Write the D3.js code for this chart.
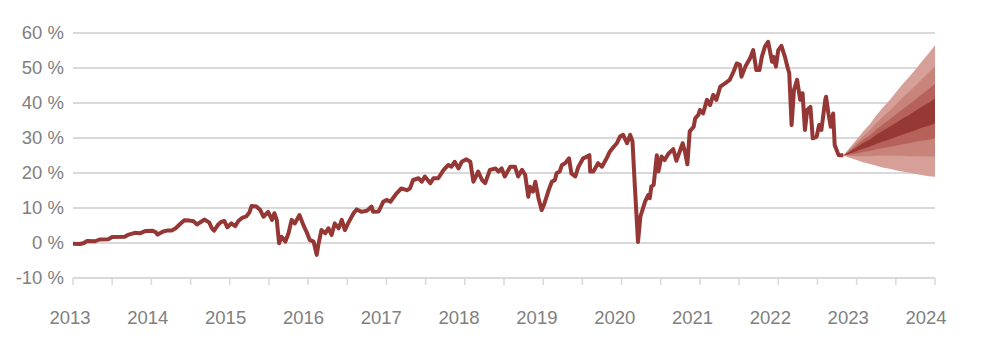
<!DOCTYPE html>
<html>
<head>
<meta charset="utf-8">
<script src="https://cdn.jsdelivr.net/npm/d3@7"></script>
<style>
    body { margin: 0; background: #fff; }
    svg { display: block; }
</style>
</head>
<body>
<svg id="chart"></svg>
<script>
// Historical performance, decimal years and % values
const lineYears = [
    2013.00, 2013.09, 2013.14, 2013.18, 2013.28, 2013.34, 2013.45, 2013.50, 2013.66, 2013.70,
    2013.79, 2013.86, 2013.92, 2014.01, 2014.05, 2014.08, 2014.15, 2014.21, 2014.26, 2014.31,
    2014.37, 2014.42, 2014.49, 2014.54, 2014.58, 2014.65, 2014.68, 2014.74, 2014.77, 2014.80,
    2014.85, 2014.89, 2014.93, 2014.97, 2015.02, 2015.07, 2015.11, 2015.16, 2015.21, 2015.25,
    2015.28, 2015.34, 2015.39, 2015.43, 2015.49, 2015.54, 2015.57, 2015.60, 2015.63, 2015.66,
    2015.71, 2015.75, 2015.79, 2015.83, 2015.89, 2015.94, 2015.98, 2016.02, 2016.07, 2016.11,
    2016.13, 2016.17, 2016.22, 2016.26, 2016.30, 2016.34, 2016.39, 2016.43, 2016.47, 2016.51,
    2016.58, 2016.62, 2016.68, 2016.75, 2016.81, 2016.83, 2016.90, 2016.96, 2017.00, 2017.05,
    2017.13, 2017.19, 2017.26, 2017.30, 2017.34, 2017.41, 2017.45, 2017.49, 2017.56, 2017.60,
    2017.66, 2017.73, 2017.79, 2017.83, 2017.87, 2017.92, 2017.96, 2018.02, 2018.07, 2018.11,
    2018.17, 2018.22, 2018.26, 2018.32, 2018.39, 2018.43, 2018.47, 2018.51, 2018.58, 2018.64,
    2018.68, 2018.73, 2018.77, 2018.81, 2018.83, 2018.87, 2018.90, 2018.94, 2018.98, 2019.01,
    2019.07, 2019.11, 2019.15, 2019.17, 2019.21, 2019.24, 2019.28, 2019.33, 2019.36, 2019.41,
    2019.45, 2019.51, 2019.56, 2019.59, 2019.60, 2019.64, 2019.70, 2019.75, 2019.81, 2019.85,
    2019.90, 2019.94, 2019.98, 2020.02, 2020.07, 2020.11, 2020.14, 2020.17, 2020.21, 2020.24,
    2020.30, 2020.34, 2020.36, 2020.38, 2020.41, 2020.45, 2020.47, 2020.51, 2020.55, 2020.60,
    2020.66, 2020.70, 2020.78, 2020.81, 2020.84, 2020.87, 2020.92, 2020.94, 2020.98, 2021.00,
    2021.04, 2021.09, 2021.13, 2021.17, 2021.21, 2021.26, 2021.32, 2021.38, 2021.43, 2021.47,
    2021.51, 2021.53, 2021.58, 2021.64, 2021.68, 2021.72, 2021.76, 2021.79, 2021.83, 2021.87,
    2021.92, 2021.94, 2021.97, 2022.00, 2022.04, 2022.09, 2022.11, 2022.14, 2022.17, 2022.20,
    2022.24, 2022.28, 2022.31, 2022.34, 2022.37, 2022.41, 2022.44, 2022.49, 2022.52, 2022.55,
    2022.60, 2022.61, 2022.64, 2022.67, 2022.70, 2022.72, 2022.77, 2022.83
];
const lineValues = [
    -0.2, -0.3, 0.0, 0.6, 0.5, 1.0, 1.1, 1.7, 1.8, 2.3,
    2.9, 2.8, 3.4, 3.5, 3.2, 2.4, 3.3, 3.6, 3.6, 4.2,
    5.5, 6.5, 6.4, 6.2, 5.3, 6.3, 6.7, 5.8, 4.3, 3.5,
    5.2, 6.0, 6.3, 4.5, 5.6, 4.8, 6.3, 7.2, 7.6, 8.7,
    10.6, 10.4, 9.4, 7.5, 8.9, 6.6, 8.5, 6.6, -0.1, 1.8,
    0.4, 2.8, 6.6, 5.6, 8.0, 5.1, 3.2, 0.9, 0.4, -3.4,
    -0.6, 3.7, 2.8, 4.2, 2.3, 5.6, 4.2, 6.6, 3.7, 5.6,
    8.5, 9.6, 8.9, 9.2, 10.4, 8.9, 9.0, 11.8, 12.3, 11.8,
    14.2, 15.6, 15.1, 15.6, 18.0, 18.5, 17.5, 19.0, 17.1, 18.5,
    18.5, 20.9, 22.3, 21.8, 23.2, 21.3, 23.2, 23.9, 23.2, 17.5,
    20.4, 18.0, 17.1, 20.9, 21.3, 20.4, 21.3, 19.0, 21.8, 21.8,
    19.0, 20.9, 19.5, 13.2, 16.1, 14.7, 17.5, 12.8, 9.4, 10.9,
    15.1, 17.5, 18.0, 19.9, 20.4, 22.3, 22.8, 24.2, 19.9, 19.0,
    21.8, 24.2, 24.7, 25.1, 20.4, 20.4, 22.8, 21.8, 24.2, 26.1,
    27.5, 28.5, 30.4, 30.9, 28.5, 30.9, 29.0, 16.1, 0.3, 7.5,
    11.8, 13.7, 12.8, 16.1, 16.6, 25.1, 20.4, 24.7, 23.7, 25.6,
    26.8, 23.5, 28.5, 26.0, 22.5, 31.9, 33.2, 35.6, 36.6, 38.0,
    37.0, 40.9, 39.4, 42.3, 40.9, 44.7, 45.6, 46.6, 49.0, 51.3,
    50.9, 47.5, 50.4, 52.8, 55.1, 49.4, 49.4, 53.2, 56.1, 57.5,
    51.8, 53.2, 50.4, 55.1, 56.3, 52.8, 50.9, 48.5, 33.7, 43.7,
    46.6, 40.9, 42.8, 32.3, 38.0, 38.9, 29.9, 30.4, 33.7, 32.3,
    40.9, 41.8, 37.0, 33.2, 37.0, 28.0, 25.1, 25.1
];

// Forecast fan, monthly points; edges from top (e1) to bottom (e8)
const fanYears = [2022.83, 2022.92, 2023.00, 2023.08, 2023.17, 2023.25, 2023.33, 2023.42,
                  2023.50, 2023.58, 2023.67, 2023.75, 2023.83, 2023.92, 2024.00];
const fanE1 = [25.0, 27.4, 29.6, 31.8, 34.0, 36.4, 38.6, 40.8, 43.0, 45.2, 47.4, 49.6, 51.8, 54.2, 56.5];
const fanE2 = [25.0, 26.9, 28.7, 30.5, 32.3, 34.2, 36.0, 37.8, 39.6, 41.4, 43.2, 44.9, 46.7, 48.7, 50.5];
const fanE3 = [25.0, 26.5, 28.0, 29.4, 30.8, 32.4, 33.8, 35.3, 36.7, 38.1, 39.6, 41.0, 42.4, 44.0, 45.4];
const fanE4 = [25.0, 26.2, 27.3, 28.5, 29.6, 30.9, 32.0, 33.2, 34.3, 35.5, 36.6, 37.8, 38.9, 40.1, 41.3];
const fanE5 = [25.0, 25.6, 26.3, 26.9, 27.6, 28.3, 29.0, 29.6, 30.3, 30.9, 31.6, 32.2, 32.9, 33.5, 34.2];
const fanE6 = [25.0, 25.3, 25.6, 26.0, 26.3, 26.8, 27.1, 27.5, 27.8, 28.2, 28.5, 28.9, 29.2, 29.5, 29.9];
const fanE7 = [25.0, 24.9, 24.8, 24.8, 24.8, 24.9, 24.9, 24.9, 24.9, 24.9, 24.8, 24.8, 24.8, 24.7, 24.7];
const fanE8 = [25.0, 24.3, 23.7, 23.1, 22.6, 22.1, 21.6, 21.2, 20.8, 20.4, 20.1, 19.7, 19.4, 19.1, 18.9];

// Axis ticks
const yTicks = [-10, 0, 10, 20, 30, 40, 50, 60];
const yearLabels = ["2013", "2014", "2015", "2016", "2017", "2018", "2019", "2020", "2021", "2022", "2023", "2024"];

// Chart dimensions
const svgWidth = 1000;
const svgHeight = 341;
const fontFamily = "'Liberation Sans', Arial, sans-serif";
const textColor = "#808080";
const gridColor = "#d9d9d9";
const lineColor = "#953735";

const svg = d3.select("#chart")
    .attr("width", svgWidth)
    .attr("height", svgHeight);

const x = d3.scaleLinear().domain([2013, 2024]).range([73, 935]);
const y = d3.scaleLinear().domain([-10, 60]).range([278, 33]);
// year labels sit slightly left of their ticks in the original
const xLabel = d3.scaleLinear().domain([2013, 2024]).range([70, 926]);

// Horizontal grid lines
svg.append("g")
    .attr("class", "grid")
    .selectAll("line")
    .data(yTicks)
    .join("line")
    .attr("x1", x(2013))
    .attr("x2", x(2024))
    .attr("y1", d => y(d))
    .attr("y2", d => y(d))
    .attr("stroke", gridColor)
    .attr("stroke-width", 2);

// Y labels
svg.append("g")
    .selectAll("text")
    .data(yTicks)
    .join("text")
    .attr("x", 64)
    .attr("y", d => y(d))
    .attr("dy", "0.35em")
    .attr("text-anchor", "end")
    .attr("font-family", fontFamily)
    .attr("font-size", 18.5)
    .attr("fill", textColor)
    .text(d => d + " %");

// Half-year tick marks below the bottom line
const halfYears = d3.range(0, 23).map(i => 2013 + i / 2);
svg.append("g")
    .selectAll("line")
    .data(halfYears)
    .join("line")
    .attr("x1", d => x(d))
    .attr("x2", d => x(d))
    .attr("y1", y(-10))
    .attr("y2", y(-10) + 7)
    .attr("stroke", gridColor)
    .attr("stroke-width", 1.5);

// Year labels
svg.append("g")
    .selectAll("text")
    .data(yearLabels)
    .join("text")
    .attr("x", d => xLabel(+d))
    .attr("y", 324)
    .attr("text-anchor", "middle")
    .attr("font-family", fontFamily)
    .attr("font-size", 18.5)
    .attr("fill", textColor)
    .text(d => d);

// Fan bands, drawn from widest to narrowest
const fanBands = [
    { upper: fanE1, lower: fanE8, color: "#d6a098" },
    { upper: fanE2, lower: fanE7, color: "#c8837a" },
    { upper: fanE3, lower: fanE6, color: "#b6625b" },
    { upper: fanE4, lower: fanE5, color: "#963834" }
];

const area = d3.area()
    .x(d => x(d.t))
    .y0(d => y(d.lo))
    .y1(d => y(d.hi));

svg.append("g")
    .attr("class", "fan")
    .selectAll("path")
    .data(fanBands)
    .join("path")
    .attr("d", b => area(fanYears.map((t, i) => ({ t: t, hi: b.upper[i], lo: b.lower[i] }))))
    .attr("fill", b => b.color);

// Historical line
const line = d3.line()
    .x(d => x(d.t))
    .y(d => y(d.v));

svg.append("path")
    .datum(lineYears.map((t, i) => ({ t: t, v: lineValues[i] })))
    .attr("d", line)
    .attr("fill", "none")
    .attr("stroke", lineColor)
    .attr("stroke-width", 4)
    .attr("stroke-linejoin", "round");
</script>
</body>
</html>
